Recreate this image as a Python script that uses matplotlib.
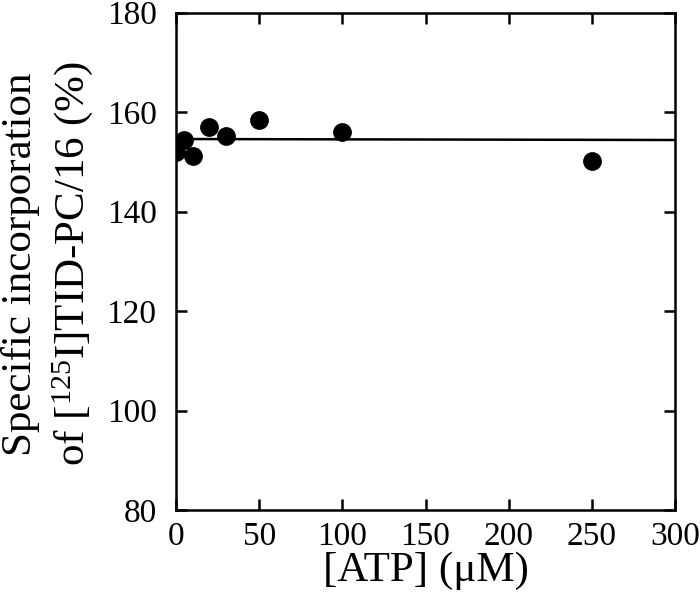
import matplotlib
matplotlib.use("Agg")
import matplotlib.pyplot as plt

# Data
atp = [0, 5, 10, 20, 30, 50, 100, 250]
incorporation = [152.05, 154.5, 151.25, 157.1, 155.3, 158.4, 155.95, 150.2]
fit_x = [0, 300]
fit_y = [154.6, 154.4]
xticks = [0, 50, 100, 150, 200, 250, 300]
yticks = [80, 100, 120, 140, 160, 180]

plt.rcParams['font.family'] = ['Liberation Serif', 'DejaVu Serif']
plt.rcParams['mathtext.fontset'] = 'custom'
plt.rcParams['mathtext.rm'] = 'Liberation Serif'
plt.rcParams['mathtext.it'] = 'Liberation Serif:italic'

fig = plt.figure(figsize=(7.0, 6.12), dpi=100)
ax = fig.add_axes([176/700, 1 - 510/612, (675-176)/700, (510-12.7)/612])

ax.plot(fit_x, fit_y, color='black', lw=1.8, zorder=2)
ax.plot(atp, incorporation, 'o', color='black', markersize=12.5, zorder=3)

ax.set_xlim(0, 300)
ax.set_ylim(80, 180)
ax.set_xticks(xticks)
ax.set_yticks(yticks)
ax.tick_params(direction='in', length=8, width=1.8, top=True, right=True,
               labelsize=24)
ax.tick_params(axis='y', pad=14)
ax.tick_params(axis='x', pad=8)
for s in ax.spines.values():
    s.set_linewidth(1.8)

ax.set_xlabel('[ATP] (\u03bcM)', fontsize=31, labelpad=0)
ax.set_ylabel('Specific incorporation\nof [$^{125}$I]TID-PC/16 (%)', fontsize=31,
              linespacing=1.3)
ax.yaxis.set_label_coords(-0.163, 0.495)

fig.savefig('out.png', dpi=100)
